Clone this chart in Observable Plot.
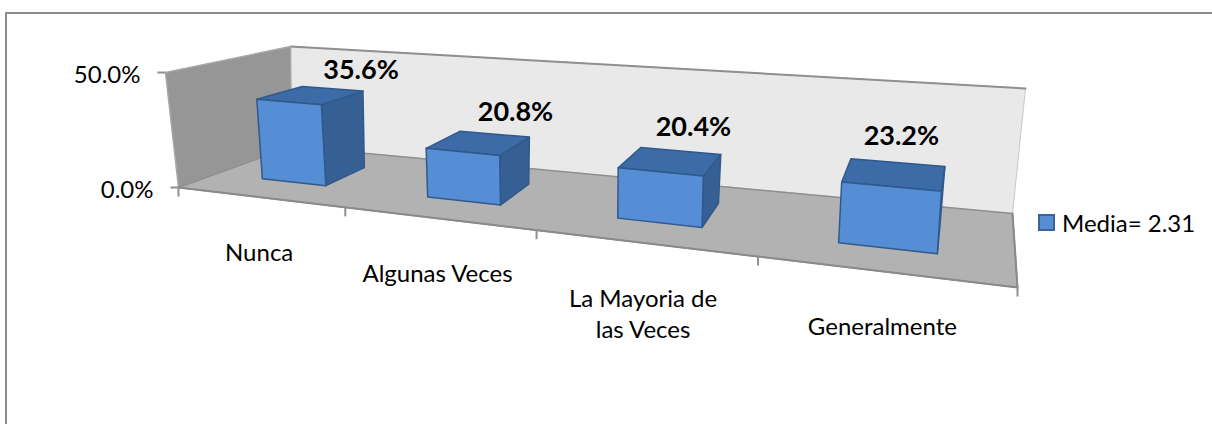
<!DOCTYPE html>
<html><head><meta charset="utf-8">
<script src="https://cdn.jsdelivr.net/npm/d3@7"></script>
<script src="https://cdn.jsdelivr.net/npm/@observablehq/plot@0.6"></script>
<style>
html,body{margin:0;padding:0;background:#fff;}
#wrap{position:relative;width:1212px;height:424px;overflow:hidden;font-family:Lato,sans-serif;}
#frame{position:absolute;left:5px;top:12px;width:1400px;height:600px;border-left:2px solid #8c8c8c;border-top:2px solid #8c8c8c;}
#chart{position:absolute;left:0;top:0;}
#legend{position:absolute;left:1038px;top:208px;display:flex;align-items:center;gap:7px;font-size:24px;color:#000;}
#legend .sw{width:13px;height:13px;background:#558ED5;border:2px solid #3A6496;}
</style></head>
<body><div id="wrap"><div id="frame"></div><div id="chart"></div><div id="legend"></div></div>
<script>
// ---- data ----
const categories = ["Nunca", "Algunas Veces", "La Mayoria de\nlas Veces", "Generalmente"];
const values = [35.6, 20.8, 20.4, 23.2];
const yTicks = [0, 50];
const seriesName = "Media= 2.31";

// ---- 3D view (Excel-like perspective box) ----
const view = {
  floor: {fl: [178, 187], fr: [1017, 287], bl: [291, 146], br: [1012, 213]},
  rise:  {fl: [-13, -115], fr: [10, -143], bl: [-1, -100], br: [13, -125]},
  perspX: -0.0639, perspZ: 0.2, barDepth: [0.3, 0.7]
};
const n = categories.length;
const xBand = d3.scaleBand().domain(categories).range([0, n]).paddingInner(0.6).paddingOuter(0.3);
const yVal = d3.scaleLinear().domain([0, d3.max(yTicks)]).range([0, 1]);
function project(X, h, Z) {
  const f = t => t / (1 + view.perspX * t);
  const u = f(X) / f(n);
  const v = (1 + view.perspZ) * Z / (1 + view.perspZ * Z);
  const bil = (k, i) => view[k].fl[i] * (1 - u) * (1 - v) + view[k].fr[i] * u * (1 - v)
                      + view[k].bl[i] * (1 - u) * v + view[k].br[i] * u * v;
  return {x: bil("floor", 0) + h * bil("rise", 0), y: bil("floor", 1) + h * bil("rise", 1)};
}
function poly(id, pts) { return pts.map(([X, h, Z]) => ({id, ...project(X, h, Z)})); }

// walls
const backWall = poly("back", [[0,0,1],[n,0,1],[n,1,1],[0,1,1]]);
const leftWall = poly("left", [[0,0,0],[0,0,1],[0,1,1],[0,1,0]]);
const floorP = poly("floor", [[0,0,0],[n,0,0],[n,0,1],[0,0,1]]);

// bars
const [Z0, Z1] = view.barDepth;
const fronts = [], tops = [], sides = [];
categories.forEach((c, i) => {
  const X0 = xBand(c), X1 = X0 + xBand.bandwidth(), h = yVal(values[i]);
  sides.push(...poly("s" + i, [[X1,0,Z0],[X1,0,Z1],[X1,h,Z1],[X1,h,Z0]]));
  tops.push(...poly("t" + i, [[X0,h,Z0],[X1,h,Z0],[X1,h,Z1],[X0,h,Z1]]));
  fronts.push(...poly("f" + i, [[X0,0,Z0],[X1,0,Z0],[X1,h,Z0],[X0,h,Z0]]));
});

// ticks
const catTicks = d3.range(n + 1).map(X => project(X, 0, 0));
const valTicks = yTicks.map(t => ({t, ...project(0, yVal(t), 0)}));
const catLabels = categories.map(c => ({c, ...project(xBand(c) + xBand.bandwidth() / 2, 0, 0)}));
const dataLabels = categories.map((c, i) => ({v: values[i], ...project(xBand(c) + xBand.bandwidth() / 2, yVal(values[i]), 1)}));

const wallStroke = "#8f8f8f";
const barStroke = "#30598c";
const face = (data, fill) => Plot.line(data, {x: "x", y: "y", z: "id", curve: "linear-closed", fill, stroke: barStroke, strokeWidth: 1.5, strokeLinejoin: "round"});

const chart = Plot.plot({
  width: 1212, height: 424, margin: 0,
  x: {type: "identity", axis: null},
  y: {type: "identity", axis: null},
  style: {fontFamily: "Lato, sans-serif", background: "transparent", overflow: "visible"},
  marks: [
    Plot.line(backWall, {x: "x", y: "y", z: "id", curve: "linear-closed", fill: "#e9e9e9", stroke: "#c8c8c8", strokeWidth: 1}),
    Plot.line(backWall.slice(2, 4), {x: "x", y: "y", stroke: wallStroke, strokeWidth: 2}),
    Plot.line(leftWall, {x: "x", y: "y", z: "id", curve: "linear-closed", fill: "#969696", stroke: "#a8a8a8", strokeWidth: 1.5}),
    Plot.line(floorP, {x: "x", y: "y", z: "id", curve: "linear-closed", fill: "#b2b2b2", stroke: wallStroke, strokeWidth: 1.5}),
    Plot.line(floorP.slice(0, 3), {x: "x", y: "y", stroke: "#8a8a8a", strokeWidth: 2}),
    Plot.link(catTicks, {x1: "x", y1: "y", x2: "x", y2: d => d.y + 9, stroke: wallStroke, strokeWidth: 2}),
    Plot.link(valTicks, {x1: d => d.x - 8, y1: "y", x2: "x", y2: "y", stroke: wallStroke, strokeWidth: 2}),
    face(sides, "#365f93"),
    face(tops, "#3d6ba7"),
    face(fronts, "#558ed5"),
    Plot.text(valTicks, {x: "x", y: "y", text: d => d3.format(".1%")(d.t / 100), textAnchor: "end", dx: -25, dy: 3, fontSize: 24, fill: "#000"}),
    Plot.text(catLabels, {x: "x", y: "y", text: "c", textAnchor: "middle", lineAnchor: "top", dy: 42, lineHeight: 1.29, fontSize: 24, fill: "#000"}),
    Plot.text(dataLabels, {x: "x", y: "y", text: d => d3.format(".1f")(d.v) + "%", textAnchor: "middle", lineAnchor: "middle", dy: -10, fontSize: 27, fontWeight: "bold", fill: "#000"})
  ]
});
document.getElementById("chart").appendChild(chart);
document.getElementById("legend").innerHTML = `<div class="sw"></div><span>${seriesName}</span>`;
</script>
</body></html>
